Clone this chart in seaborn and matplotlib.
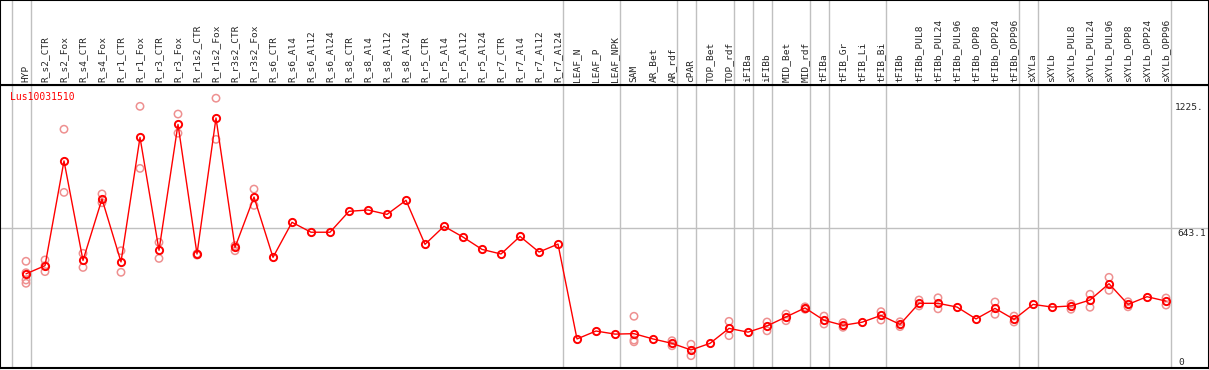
import numpy as np
import pandas as pd
import matplotlib
matplotlib.use('Agg')
import matplotlib.pyplot as plt
import seaborn as sns

# sample names (x axis, shown as vertical labels on top)
samples = ['HYP', 'R_s2_CTR', 'R_s2_Fox', 'R_s4_CTR', 'R_s4_Fox', 'R_r1_CTR', 'R_r1_Fox',
           'R_r3_CTR', 'R_r3_Fox', 'R_r1s2_CTR', 'R_r1s2_Fox', 'R_r3s2_CTR', 'R_r3s2_Fox',
           'R_s6_CTR', 'R_s6_Al4', 'R_s6_Al12', 'R_s6_Al24', 'R_s8_CTR', 'R_s8_Al4',
           'R_s8_Al12', 'R_s8_Al24', 'R_r5_CTR', 'R_r5_Al4', 'R_r5_Al12', 'R_r5_Al24',
           'R_r7_CTR', 'R_r7_Al4', 'R_r7_Al12', 'R_r7_Al24', 'LEAF_N', 'LEAF_P', 'LEAF_NPK',
           'SAM', 'AR_Bet', 'AR_rdf', 'cPAR', 'TOP_Bet', 'TOP_rdf', 'iFIBa', 'iFIBb',
           'MID_Bet', 'MID_rdf', 'tFIBa', 'tFIB_Gr', 'tFIB_Li', 'tFIB_Bi', 'tFIBb',
           'tFIBb_PUL8', 'tFIBb_PUL24', 'tFIBb_PUL96', 'tFIBb_OPP8', 'tFIBb_OPP24',
           'tFIBb_OPP96', 'sXYLa', 'sXYLb', 'sXYLb_PUL8', 'sXYLb_PUL24', 'sXYLb_PUL96',
           'sXYLb_OPP8', 'sXYLb_OPP24', 'sXYLb_OPP96']

# mean expression per sample
means = [435, 472, 948, 496, 775, 489, 1055, 542, 1114, 525, 1143, 555, 784,
         510, 669, 624, 624, 719, 725, 705, 769, 569, 651, 602, 546, 525, 605, 534, 570,
         139, 175, 161,
         163, 139, 119, 89, 119, 187, 170, 198, 239, 280, 224, 201, 215, 246, 205,
         301, 301, 284, 230, 278, 228, 296, 284, 289, 316, 390, 296, 331, 311]

# individual replicates (empty = single value)
reps = [[492, 440, 407, 392], [498, 445, 472], [1092, 805], [528, 464], [798, 758],
        [540, 442], [1196, 914], [578, 505], [1161, 1074], [526, 520], [1233, 1046],
        [563, 540], [820, 746],
        [], [], [], [], [], [], [], [], [], [], [], [], [], [], [], [],
        [], [], [],
        [242, 134, 126], [], [131, 108], [115, 63], [], [219, 154], [], [216, 176],
        [252, 222], [285, 274], [243, 207], [213, 192], [], [263, 225], [217, 195],
        [316, 289], [326, 276], [], [], [307, 251], [243, 216], [], [], [298, 274],
        [342, 283], [419, 360], [308, 285], [], [325, 293]]

# gray separators drawn after these sample groups
group_ends = [-1, 0, 28, 31, 34, 35, 37, 38, 39, 41, 42, 45, 52, 53, 60]

gene = 'Lus10031510'
ref_value = 643.1
top_value = 1225

df = pd.DataFrame({'idx': range(len(samples)), 'mean': means})
rep_df = pd.DataFrame([(i, v) for i, r in enumerate(reps) for v in r], columns=['idx', 'value'])

sns.set_style('white')
plt.rcParams['font.family'] = ['DejaVu Sans Mono']

W, H = 1209, 370
fig = plt.figure(figsize=(W / 100, H / 100), dpi=100)
ax = fig.add_axes([0, 2 / H, 1, 283 / H])
hx = fig.add_axes([0, 285 / H, 1, 85 / H])

xlim = (-26 / 19, (W - 26) / 19)
for a in (ax, hx):
    a.set_xlim(*xlim)
    a.set_xticks([])
    a.set_yticks([])
    for s in a.spines.values():
        s.set_color('black')
        s.set_linewidth(1.5)
    for g in group_ends:
        a.axvline(g + 0.24, color='#c0c0c0', lw=1, zorder=0)

ax.set_ylim(7, 1293)
ax.axhline(ref_value, color='#c0c0c0', lw=1, zorder=0)

# replicates first, mean line on top
sns.scatterplot(data=rep_df, x='idx', y='value', ax=ax, marker='o', s=28,
                facecolors='none', edgecolor='#ee9090', linewidth=1.1, zorder=2)
sns.lineplot(data=df, x='idx', y='mean', ax=ax, color='red', lw=1, sort=False,
             marker='o', ms=5.2, mfc='none', mec='red', mew=1.4, zorder=3)
ax.set_xlabel('')
ax.set_ylabel('')
ax.set_xticks([])
ax.set_yticks([])

ax.text(10 / W, 0.958, gene, transform=ax.transAxes, color='red', fontsize=7,
        va='center', ha='left')

# right side value labels
ax.annotate(f'{top_value}.', xy=(1175 / W, top_value), xycoords=('axes fraction', 'data'),
            xytext=(0, -2), textcoords='offset points', va='top', ha='left', fontsize=6.8)
ax.annotate(f'{ref_value}', xy=(1177 / W, ref_value), xycoords=('axes fraction', 'data'),
            xytext=(0, -0.5), textcoords='offset points', va='top', ha='left', fontsize=6.8)
ax.annotate('0', xy=(1178 / W, 0), xycoords=('axes fraction', 'data'),
            xytext=(0, 2), textcoords='offset points', va='bottom', ha='left', fontsize=6.8)

hx.set_ylim(0, 1)
for i, name in enumerate(samples):
    hx.text(i, 0.03, name, rotation=90, ha='center', va='bottom', fontsize=6.8)

fig.savefig('out.png', dpi=100)
